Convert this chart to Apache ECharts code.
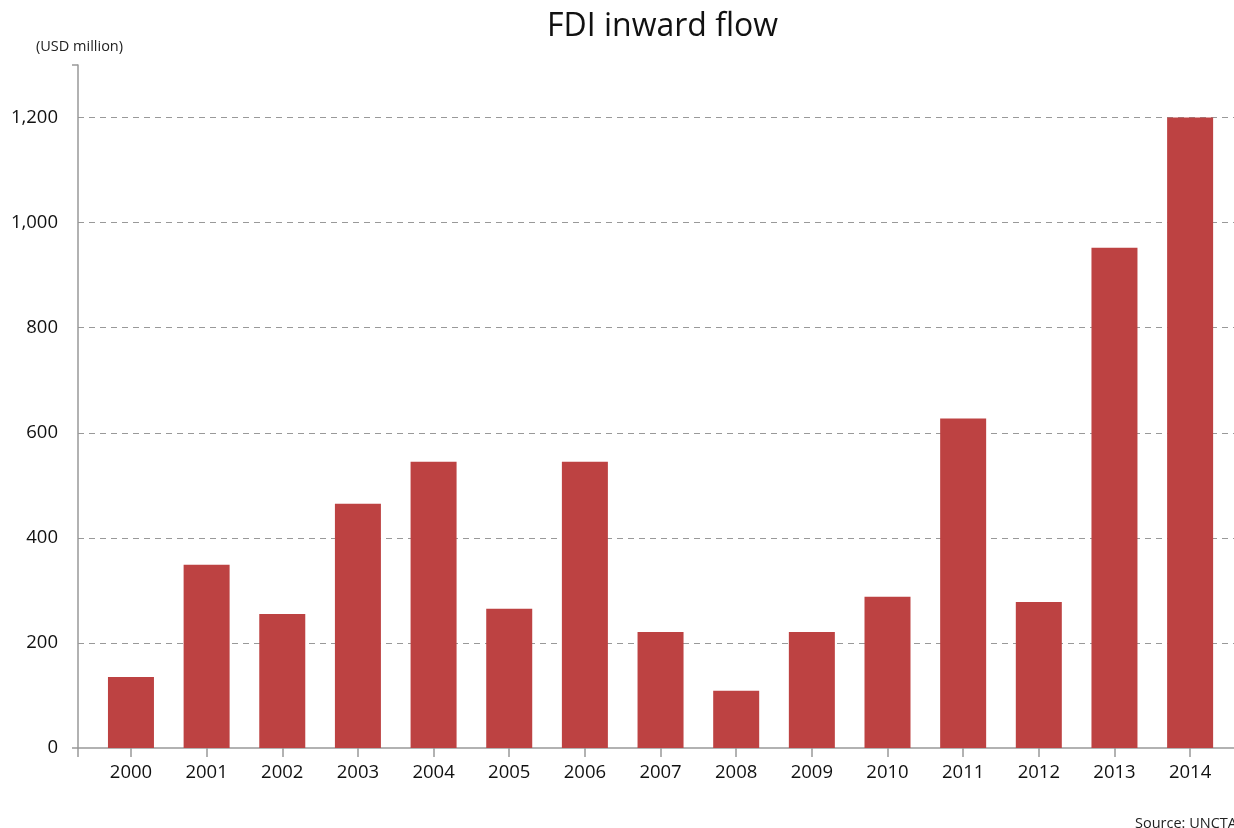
<!DOCTYPE html>
<html>
<head>
    <meta charset="utf-8">
    <title>FDI inward flow</title>
    <script src="https://cdn.jsdelivr.net/npm/echarts@6/dist/echarts.min.js"></script>
    <style>
        html, body { margin: 0; padding: 0; background: #fff; }
    </style>
</head>
<body>
<div id="main" style="width: 1234px;height:828px;"></div>
<script type="text/javascript">
    // data
    var years = ['2000','2001','2002','2003','2004','2005','2006','2007','2008','2009','2010','2011','2012','2013','2014'];
    var inflow = [135, 349, 255, 465, 545, 265, 545, 221, 109, 221, 288, 627, 278, 952, 1200];
    var yTicks = [0, 200, 400, 600, 800, 1000, 1200];

    var myChart = echarts.init(document.getElementById('main'));

    var barData = inflow.map(function (v, i) { return [i, v]; });
    var xIdx = years.map(function (y, i) { return i; });
    var font = '"Open Sans", "Noto Sans", sans-serif';

    var option = {
        animation: false,
        title: [{
            text: 'FDI inward flow',
            left: 542,
            top: 6,
            textStyle: { fontFamily: font, fontSize: 32, fontWeight: 'normal', color: '#111' }
        }, {
            text: '(USD million)',
            left: 31,
            top: 34,
            textStyle: { fontFamily: font, fontSize: 14.5, fontWeight: 'normal', color: '#222' }
        }, {
            text: 'Source: UNCTAD',
            left: 1130,
            top: 811,
            textStyle: { fontFamily: font, fontSize: 14.5, fontWeight: 'normal', color: '#222' }
        }],
        grid: { left: 78, right: 0, top: 65, bottom: 80, containLabel: false },
        xAxis: {
            type: 'value',
            min: -0.7,
            max: 14.58,
            axisLine: { show: true, onZero: true, lineStyle: { color: '#999', width: 1.5 } },
            axisTick: { show: true, length: 9, customValues: [-0.7].concat(xIdx), lineStyle: { color: '#999', width: 1.5 } },
            axisLabel: {
                customValues: xIdx,
                margin: 15,
                fontFamily: font, fontSize: 18.5, color: '#111',
                formatter: function (v) { return years[Math.round(v)]; }
            },
            splitLine: { show: false }
        },
        yAxis: [{
            type: 'value',
            min: 0,
            max: 1300,
            interval: 200,
            axisLine: { show: false },
            axisTick: { show: false },
            axisLabel: {
                customValues: yTicks,
                margin: 20,
                fontFamily: font, fontSize: 18.5, color: '#111',
                formatter: function (v) { return v.toLocaleString('en-US'); }
            },
            splitLine: {
                show: true,
                showMinLine: false,
                showMaxLine: false,
                lineStyle: { color: '#999', type: [6, 5], width: 1 }
            }
        }, {
            type: 'value',
            position: 'left',
            min: 0,
            max: 1300,
            axisLine: { show: true, lineStyle: { color: '#999', width: 1.5 } },
            axisTick: { show: true, length: 6, customValues: [0, 1300], lineStyle: { color: '#999', width: 1.5 } },
            axisLabel: { show: false },
            splitLine: { show: false }
        }],
        series: [{
            name: 'FDI inward flow',
            type: 'bar',
            yAxisIndex: 0,
            barWidth: 46,
            itemStyle: { color: '#BD4242' },
            data: barData
        }]
    };

    myChart.setOption(option);
</script>
</body>
</html>
